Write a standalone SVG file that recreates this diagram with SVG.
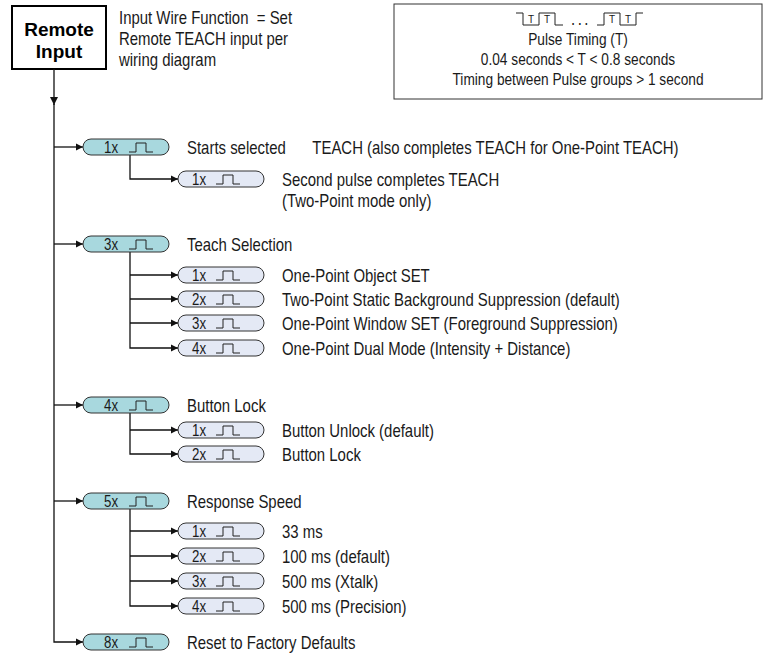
<svg xmlns="http://www.w3.org/2000/svg" xmlns:xlink="http://www.w3.org/1999/xlink" width="764" height="658" viewBox="0 0 764 658">
<style>
  .t { font-family: "Liberation Sans", Arial, sans-serif; font-size: 18px; fill: #1a1a1a; }
  .bx { font-size: 16.5px; text-anchor: middle; }
  .pl { font-size: 16px; }
  .tiny { font-family: "Liberation Sans", Arial, sans-serif; font-size: 10px; fill: #1a1a1a; text-anchor: middle; }
  .bold { font-family: "Liberation Sans", Arial, sans-serif; font-size: 19px; font-weight: bold; fill: #000; text-anchor: middle; }
  .top { fill: #a8d8de; stroke: #333; stroke-width: 1; }
  .sub { fill: #e4e9f5; stroke: #333; stroke-width: 1; }
  .wire { stroke: #111; stroke-width: 1.3; fill: none; }
  .pulse { stroke: #222; stroke-width: 1; fill: none; }
</style>
<defs>
  <marker id="ah" markerWidth="8" markerHeight="8" refX="7" refY="4" orient="auto" markerUnits="userSpaceOnUse">
    <path d="M0,0.5 L7,4 L0,7.5 z" fill="#111"/>
  </marker>
  <marker id="ahd" markerWidth="9" markerHeight="9" refX="8" refY="4.5" orient="auto" markerUnits="userSpaceOnUse">
    <path d="M0,0.5 L8,4.5 L0,8.5 z" fill="#111"/>
  </marker>
  <path id="pw" class="pulse" d="M0,9 h7 v-9 h10 v9 h7"/>
</defs>

<g id="remote-input">
  <rect x="12" y="6" width="94" height="63" fill="#fff" stroke="#000" stroke-width="2"/>
  <text class="bold" x="59" y="36">Remote</text>
  <text class="bold" x="59" y="58">Input</text>
</g>

<g id="note">
  <text class="t" xml:space="preserve" transform="translate(119,24) scale(0.83,1)">Input Wire Function  = Set</text>
  <text class="t" transform="translate(119,45) scale(0.83,1)">Remote TEACH input per</text>
  <text class="t" transform="translate(119,66) scale(0.83,1)">wiring diagram</text>
</g>

<g id="timing-box">
  <rect x="394" y="4" width="368" height="95" fill="#fff" stroke="#333" stroke-width="1"/>
  <path class="pulse" d="M516,13 H523 V25 H539 V13 H555 V25 H563"/>
  <path class="pulse" d="M597,25 H604 V13 H620 V25 H636 V13 H643"/>
  <text class="tiny" x="531" y="23">T</text>
  <text class="tiny" x="547" y="23">T</text>
  <text class="tiny" x="612" y="23">T</text>
  <text class="tiny" x="628" y="23">T</text>
  <text class="t" transform="translate(581,25) scale(0.83,1)" text-anchor="middle" letter-spacing="3">...</text>
  <text class="t bx" transform="translate(578,45) scale(0.83,1)">Pulse Timing (T)</text>
  <text class="t bx" transform="translate(578,65) scale(0.83,1)">0.04 seconds &lt; T &lt; 0.8 seconds</text>
  <text class="t bx" transform="translate(578,85) scale(0.83,1)">Timing between Pulse groups &gt; 1 second</text>
</g>

<g id="connectors">
  <path class="wire" d="M54,69 V105" marker-end="url(#ahd)"/>
  <path class="wire" d="M54,104 V642 H83" marker-end="url(#ah)"/>
  <path class="wire" d="M54,147 H83" marker-end="url(#ah)"/>
  <path class="wire" d="M54,244 H83" marker-end="url(#ah)"/>
  <path class="wire" d="M54,405 H83" marker-end="url(#ah)"/>
  <path class="wire" d="M54,501 H83" marker-end="url(#ah)"/>
  <path class="wire" d="M130,155 V179 H178" marker-end="url(#ah)"/>
  <path class="wire" d="M130,252 V348 H178" marker-end="url(#ah)"/>
  <path class="wire" d="M130,275 H178" marker-end="url(#ah)"/>
  <path class="wire" d="M130,299 H178" marker-end="url(#ah)"/>
  <path class="wire" d="M130,323 H178" marker-end="url(#ah)"/>
  <path class="wire" d="M130,413 V454 H178" marker-end="url(#ah)"/>
  <path class="wire" d="M130,430 H178" marker-end="url(#ah)"/>
  <path class="wire" d="M130,509 V606 H178" marker-end="url(#ah)"/>
  <path class="wire" d="M130,531 H178" marker-end="url(#ah)"/>
  <path class="wire" d="M130,556 H178" marker-end="url(#ah)"/>
  <path class="wire" d="M130,581 H178" marker-end="url(#ah)"/>
</g>

<!-- 1x top -->
<g id="n-1x">
  <rect class="top" x="83" y="139" width="86" height="16" rx="8"/>
  <text class="t pl" transform="translate(104,152.5) scale(0.83,1)">1x</text>
  <use href="#pw" x="129" y="143"/>
  <text class="t" transform="translate(187,153.5) scale(0.83,1)">Starts selected<tspan x="151">TEACH (also completes TEACH for One-Point TEACH)</tspan></text>
</g>
<g id="n-1x-1x">
  <rect class="sub" x="178" y="171" width="86" height="16" rx="8"/>
  <text class="t pl" transform="translate(192,184.5) scale(0.83,1)">1x</text>
  <use href="#pw" x="216" y="175"/>
  <text class="t" transform="translate(282,185.5) scale(0.83,1)">Second pulse completes TEACH</text>
  <text class="t" transform="translate(282,206.5) scale(0.83,1)">(Two-Point mode only)</text>
</g>

<!-- 3x -->
<g id="n-3x">
  <rect class="top" x="83" y="236" width="86" height="16" rx="8"/>
  <text class="t pl" transform="translate(104,249.5) scale(0.83,1)">3x</text>
  <use href="#pw" x="129" y="240"/>
  <text class="t" transform="translate(187,250.5) scale(0.83,1)">Teach Selection</text>
</g>
<g id="n-3x-1x">
  <rect class="sub" x="178" y="267" width="86" height="16" rx="8"/>
  <text class="t pl" transform="translate(192,280.5) scale(0.83,1)">1x</text>
  <use href="#pw" x="216" y="271"/>
  <text class="t" transform="translate(282,281.5) scale(0.83,1)">One-Point Object SET</text>
</g>
<g id="n-3x-2x">
  <rect class="sub" x="178" y="291" width="86" height="16" rx="8"/>
  <text class="t pl" transform="translate(192,304.5) scale(0.83,1)">2x</text>
  <use href="#pw" x="216" y="295"/>
  <text class="t" transform="translate(282,305.5) scale(0.83,1)">Two-Point Static Background Suppression (default)</text>
</g>
<g id="n-3x-3x">
  <rect class="sub" x="178" y="315" width="86" height="16" rx="8"/>
  <text class="t pl" transform="translate(192,328.5) scale(0.83,1)">3x</text>
  <use href="#pw" x="216" y="319"/>
  <text class="t" transform="translate(282,329.5) scale(0.83,1)">One-Point Window SET (Foreground Suppression)</text>
</g>
<g id="n-3x-4x">
  <rect class="sub" x="178" y="340" width="86" height="16" rx="8"/>
  <text class="t pl" transform="translate(192,353.5) scale(0.83,1)">4x</text>
  <use href="#pw" x="216" y="344"/>
  <text class="t" transform="translate(282,354.5) scale(0.83,1)">One-Point Dual Mode (Intensity + Distance)</text>
</g>

<!-- 4x -->
<g id="n-4x">
  <rect class="top" x="83" y="397" width="86" height="16" rx="8"/>
  <text class="t pl" transform="translate(104,410.5) scale(0.83,1)">4x</text>
  <use href="#pw" x="129" y="401"/>
  <text class="t" transform="translate(187,411.5) scale(0.83,1)">Button Lock</text>
</g>
<g id="n-4x-1x">
  <rect class="sub" x="178" y="422" width="86" height="16" rx="8"/>
  <text class="t pl" transform="translate(192,435.5) scale(0.83,1)">1x</text>
  <use href="#pw" x="216" y="426"/>
  <text class="t" transform="translate(282,436.5) scale(0.83,1)">Button Unlock (default)</text>
</g>
<g id="n-4x-2x">
  <rect class="sub" x="178" y="446" width="86" height="16" rx="8"/>
  <text class="t pl" transform="translate(192,459.5) scale(0.83,1)">2x</text>
  <use href="#pw" x="216" y="450"/>
  <text class="t" transform="translate(282,460.5) scale(0.83,1)">Button Lock</text>
</g>

<!-- 5x -->
<g id="n-5x">
  <rect class="top" x="83" y="493" width="86" height="16" rx="8"/>
  <text class="t pl" transform="translate(104,506.5) scale(0.83,1)">5x</text>
  <use href="#pw" x="129" y="497"/>
  <text class="t" transform="translate(187,507.5) scale(0.83,1)">Response Speed</text>
</g>
<g id="n-5x-1x">
  <rect class="sub" x="178" y="523" width="86" height="16" rx="8"/>
  <text class="t pl" transform="translate(192,536.5) scale(0.83,1)">1x</text>
  <use href="#pw" x="216" y="527"/>
  <text class="t" transform="translate(282,537.5) scale(0.83,1)">33 ms</text>
</g>
<g id="n-5x-2x">
  <rect class="sub" x="178" y="548" width="86" height="16" rx="8"/>
  <text class="t pl" transform="translate(192,561.5) scale(0.83,1)">2x</text>
  <use href="#pw" x="216" y="552"/>
  <text class="t" transform="translate(282,562.5) scale(0.83,1)">100 ms (default)</text>
</g>
<g id="n-5x-3x">
  <rect class="sub" x="178" y="573" width="86" height="16" rx="8"/>
  <text class="t pl" transform="translate(192,586.5) scale(0.83,1)">3x</text>
  <use href="#pw" x="216" y="577"/>
  <text class="t" transform="translate(282,587.5) scale(0.83,1)">500 ms (Xtalk)</text>
</g>
<g id="n-5x-4x">
  <rect class="sub" x="178" y="598" width="86" height="16" rx="8"/>
  <text class="t pl" transform="translate(192,611.5) scale(0.83,1)">4x</text>
  <use href="#pw" x="216" y="602"/>
  <text class="t" transform="translate(282,612.5) scale(0.83,1)">500 ms (Precision)</text>
</g>

<!-- 8x -->
<g id="n-8x">
  <rect class="top" x="83" y="634" width="86" height="16" rx="8"/>
  <text class="t pl" transform="translate(104,647.5) scale(0.83,1)">8x</text>
  <use href="#pw" x="129" y="638"/>
  <text class="t" transform="translate(187,648.5) scale(0.83,1)">Reset to Factory Defaults</text>
</g>
</svg>
